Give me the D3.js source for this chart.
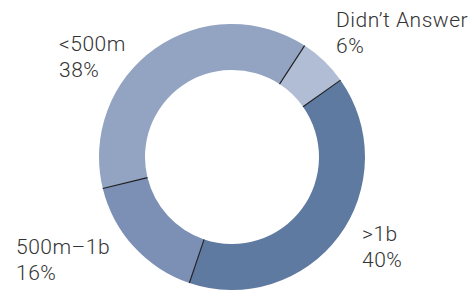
<!DOCTYPE html>
<html>
<head>
<meta charset="utf-8">
<script src="https://cdn.jsdelivr.net/npm/d3@7"></script>
<style>
  html, body { margin: 0; padding: 0; background: #fff; }
  svg { display: block; }
</style>
</head>
<body>
<svg id="chart" width="476" height="292"></svg>
<script>
const categories = ["Didn\u2019t Answer", ">1b", "500m\u20131b", "<500m"];
const values = [6, 40, 16, 38];
const percentLabels = ["6%", "40%", "16%", "38%"];
const colors = ["#b1bcd5", "#5f7aa1", "#7c8fb4", "#93a3c2"];

const svg = d3.select("#chart");
const cx = 232, cy = 157, outerR = 133, innerR = 87;
const startDeg = 33.1;

const pie = d3.pie().sort(null).value(d => d.value)
  .startAngle(startDeg * Math.PI / 180)
  .endAngle(startDeg * Math.PI / 180 + 2 * Math.PI);
const data = categories.map((c, i) => ({ cat: c, value: values[i], pct: percentLabels[i], color: colors[i] }));
const arcs = pie(data);
const arc = d3.arc().innerRadius(innerR).outerRadius(outerR);

const g = svg.append("g").attr("transform", `translate(${cx},${cy})`);
g.selectAll("path.slice").data(arcs).join("path")
  .attr("class", "slice")
  .attr("d", arc)
  .attr("fill", d => d.data.color);

// separator lines at slice boundaries
g.selectAll("line.sep").data(arcs).join("line")
  .attr("class", "sep")
  .attr("x1", d => innerR * Math.sin(d.startAngle))
  .attr("y1", d => -innerR * Math.cos(d.startAngle))
  .attr("x2", d => outerR * Math.sin(d.startAngle))
  .attr("y2", d => -outerR * Math.cos(d.startAngle))
  .attr("stroke", "#1e1e1e")
  .attr("stroke-width", 1.1);

// labels
const labelPos = {
  "Didn\u2019t Answer": [336, 27],
  ">1b": [362, 241],
  "500m\u20131b": [16, 254],
  "<500m": [59, 51]
};
const lineGap = 26;
const fontFam = "Roboto, 'Liberation Sans', Arial, sans-serif";
const lab = svg.selectAll("g.label").data(data).join("g")
  .attr("class", "label")
  .attr("transform", d => `translate(${labelPos[d.cat][0]},${labelPos[d.cat][1]})`);
lab.append("text").text(d => d.cat)
  .attr("font-family", fontFam).attr("font-weight", 300)
  .attr("letter-spacing", 0.5)
  .attr("font-size", 21).attr("fill", "#333");
lab.append("text").text(d => d.pct).attr("y", lineGap)
  .attr("font-family", fontFam).attr("font-weight", 300)
  .attr("letter-spacing", 0.5)
  .attr("font-size", 21).attr("fill", "#333");
</script>
</body>
</html>
